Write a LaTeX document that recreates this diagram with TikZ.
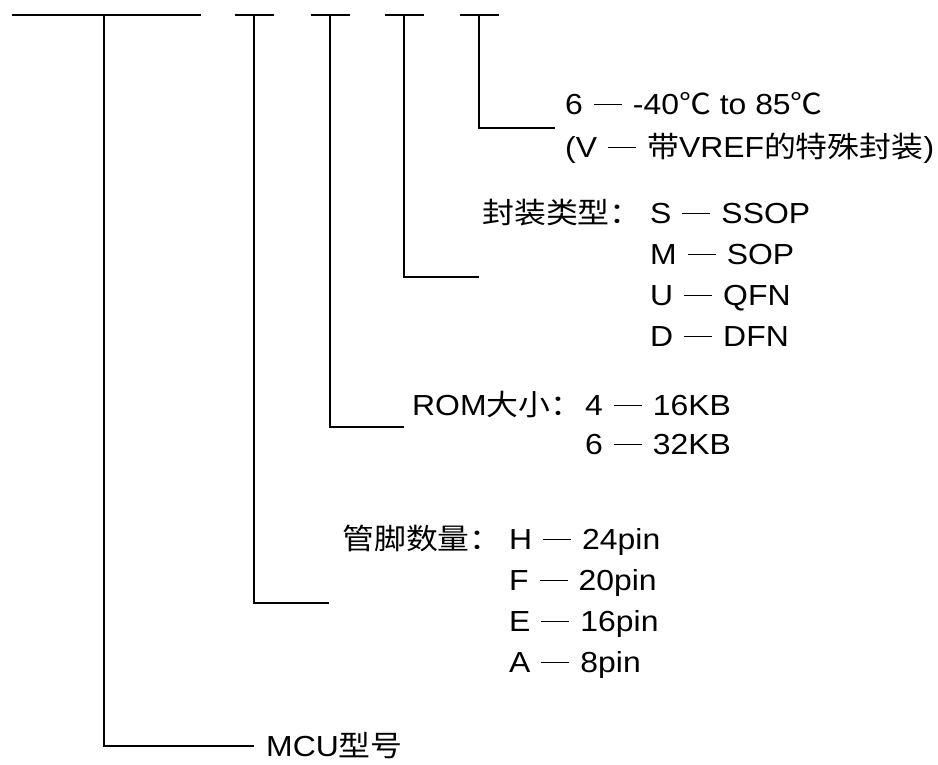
\documentclass[tikz,border=0pt]{standalone}
\usepackage{fontspec}
\setmainfont{Liberation Sans}[FakeStretch=1.1]
\newfontfamily\cjk{Noto Sans CJK SC}[FakeStretch=1.1]
\usetikzlibrary{positioning}
\newcommand{\zh}[1]{{\cjk #1}}
\newcommand{\codedash}{\hspace{11pt}\rule[10pt]{28pt}{1.2pt}\hspace{11pt}}
\tikzset{
  bar/.style={line width=1.5pt},
  lbl/.style={anchor=west,inner ysep=0pt,font=\fontsize{29}{41}\selectfont}
}

\begin{document}
\begin{tikzpicture}[x=1pt,y=-1pt]
  \useasboundingbox (0,0) rectangle (938,764);
  % code fields on top
  \draw[bar] (12,15) -- (201,15);
  \foreach \x in {254,330,404,479}
    \draw[bar] (\x-19.5,15) -- (\x+19.5,15);
  \coordinate (b1) at (104,15);
  \coordinate (b2) at (254,15);
  \coordinate (b3) at (330,15);
  \coordinate (b4) at (404,15);
  \coordinate (b5) at (479,15);
  % field meanings
  \node[lbl,inner xsep=10pt] (temp) at (555,128) {\begin{tabular}{@{}l@{}}
    6\codedash-40\zh{℃} to 85\zh{℃}\\[2pt]
    (V\codedash\zh{带}VREF\zh{的特殊封装})
  \end{tabular}};
  \node[lbl,inner xsep=3pt] (pkg) at (479,277) {\begin{tabular}{@{}p{168pt}@{}l@{}}
    \zh{封装类型：} & S\codedash SSOP\\
    & M\codedash SOP\\
    & U\codedash QFN\\
    & D\codedash DFN
  \end{tabular}};
  \node[lbl,inner xsep=8pt] (rom) at (404,427) {\begin{tabular}{@{}p{173pt}@{}l@{}}
    ROM\zh{大小：} & 4\codedash 16KB\\[-2pt]
    & 6\codedash 32KB
  \end{tabular}};
  \node[lbl,inner xsep=13pt] (pins) at (329,603) {\begin{tabular}{@{}p{167pt}@{}l@{}}
    \zh{管脚数量：} & H\codedash 24pin\\
    & F\codedash 20pin\\
    & E\codedash 16pin\\
    & A\codedash 8pin
  \end{tabular}};
  \node[lbl,inner xsep=12pt] (mcu) at (254,746) {MCU\zh{型号}};
  % leaders
  \draw[bar] (b5) |- (temp.west);
  \draw[bar] (b4) |- (pkg.west);
  \draw[bar] (b3) |- (rom.west);
  \draw[bar] (b2) |- (pins.west);
  \draw[bar] (b1) |- (mcu.west);
\end{tikzpicture}
\end{document}
